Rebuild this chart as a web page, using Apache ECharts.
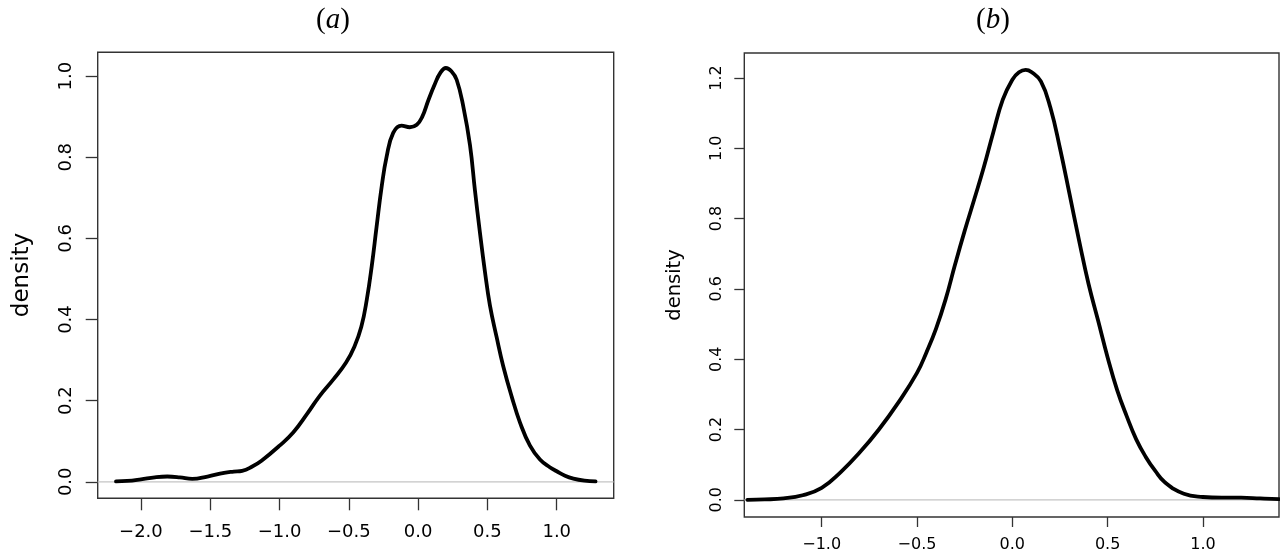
<!DOCTYPE html>
<html>
<head>
<meta charset="utf-8">
<script src="https://cdn.jsdelivr.net/npm/echarts@6/dist/echarts.min.js"></script>
<style>
html,body{margin:0;padding:0;background:#fff;}
#chart{width:1280px;height:557px;}
</style>
</head>
<body>
<div id="chart"></div>
<script>
// ---- Panel (a) data ----
const xA = [-2.18, -2.1, -2.0, -1.9, -1.81, -1.72, -1.63, -1.52, -1.40, -1.33, -1.27, -1.2, -1.13, -1.0, -0.9, -0.8, -0.71, -0.61, -0.52, -0.46, -0.41, -0.37, -0.335, -0.3, -0.263, -0.227, -0.18, -0.12, -0.06, -0.01, 0.03, 0.073, 0.12, 0.16, 0.2, 0.24, 0.278, 0.326, 0.374, 0.41, 0.446, 0.482, 0.518, 0.566, 0.614, 0.675, 0.735, 0.807, 0.879, 0.95, 1.0, 1.06, 1.12, 1.2, 1.28];
const yA = [0.001, 0.002, 0.006, 0.011, 0.013, 0.011, 0.007, 0.013, 0.022, 0.025, 0.027, 0.037, 0.052, 0.089, 0.122, 0.168, 0.212, 0.253, 0.294, 0.333, 0.382, 0.45, 0.531, 0.628, 0.728, 0.802, 0.860, 0.878, 0.874, 0.880, 0.90, 0.94, 0.98, 1.008, 1.020, 1.012, 0.991, 0.925, 0.830, 0.718, 0.614, 0.518, 0.435, 0.357, 0.285, 0.210, 0.146, 0.089, 0.055, 0.036, 0.026, 0.015, 0.008, 0.003, 0.001];
const xTicksA = [-2.0, -1.5, -1.0, -0.5, 0.0, 0.5, 1.0];
const yTicksA = [0.0, 0.2, 0.4, 0.6, 0.8, 1.0];
const xRangeA = [-2.312, 1.411];
const yRangeA = [-0.0407, 1.0587];

// ---- Panel (b) data ----
const xB = [-1.39, -1.3, -1.2, -1.1, -1.0, -0.9, -0.8, -0.7, -0.6, -0.5, -0.45, -0.4, -0.35, -0.3, -0.25, -0.2, -0.15, -0.1, -0.05, 0.0, 0.035, 0.07, 0.1, 0.15, 0.2, 0.25, 0.3, 0.35, 0.4, 0.45, 0.5, 0.55, 0.6, 0.65, 0.7, 0.75, 0.8, 0.9, 1.0, 1.1, 1.2, 1.3, 1.399];
const yB = [0.000, 0.001, 0.004, 0.013, 0.034, 0.079, 0.135, 0.200, 0.275, 0.361, 0.420, 0.487, 0.570, 0.670, 0.765, 0.854, 0.945, 1.045, 1.138, 1.195, 1.216, 1.223, 1.217, 1.190, 1.115, 1.000, 0.870, 0.738, 0.614, 0.510, 0.405, 0.312, 0.238, 0.172, 0.122, 0.082, 0.050, 0.017, 0.008, 0.006, 0.006, 0.004, 0.002];
const xTicksB = [-1.0, -0.5, 0.0, 0.5, 1.0];
const yTicksB = [0.0, 0.2, 0.4, 0.6, 0.8, 1.0, 1.2];
const xRangeB = [-1.406, 1.399];
const yRangeB = [-0.0489, 1.2709];

const titles = ['a', 'b'];
const yLabel = 'density';

const fmt = v => v.toFixed(1).replace('-', '\u2212');
const pairs = (xs, ys) => xs.map((x, i) => [x, ys[i]]);
const AX = '#333';
const FONT = 'DejaVu Sans';

function xAxisCfg(idx, range, ticks, fs, tickLen, margin) {
  return {
    type: 'value', gridIndex: idx, min: range[0], max: range[1],
    axisLine: { show: false, onZero: false },
    splitLine: { show: false },
    axisTick: { show: true, length: tickLen, customValues: ticks, lineStyle: { color: AX, width: 1.3 } },
    axisLabel: { customValues: ticks, formatter: fmt, fontFamily: FONT, fontSize: fs, color: '#000', margin: margin }
  };
}
function yAxisCfg(idx, range, ticks, fs, tickLen, margin) {
  return {
    type: 'value', gridIndex: idx, min: range[0], max: range[1],
    axisLine: { show: false, onZero: false },
    splitLine: { show: false },
    axisTick: { show: true, length: tickLen, customValues: ticks, lineStyle: { color: AX, width: 1.3 } },
    axisLabel: { customValues: ticks, formatter: fmt, fontFamily: FONT, fontSize: fs, color: '#000', margin: margin, rotate: 90 }
  };
}
function zeroSeries(idx, range) {
  return {
    type: 'line', xAxisIndex: idx, yAxisIndex: idx, z: 1, silent: true,
    symbol: 'none', data: [[range[0], 0], [range[1], 0]],
    lineStyle: { color: '#c4c4c4', width: 1.3 }
  };
}
function curveSeries(idx, xs, ys) {
  return {
    type: 'line', xAxisIndex: idx, yAxisIndex: idx, z: 3, silent: true,
    symbol: 'none', smooth: 0.45, data: pairs(xs, ys),
    lineStyle: { color: '#000', width: 3.8, cap: 'round', join: 'round' }
  };
}

const chart = echarts.init(document.getElementById('chart'), null, { renderer: 'canvas' });
const richT = { p: { fontFamily: 'Liberation Serif', fontSize: 29, fill: '#000' }, i: { fontFamily: 'Liberation Serif', fontStyle: 'italic', fontSize: 29, fill: '#000' } };
chart.setOption({
  backgroundColor: '#fff',
  animation: false,
  grid: [
    { left: 97.7, top: 52.3, width: 516, height: 446, show: true, borderColor: AX, borderWidth: 1.4, backgroundColor: 'transparent' },
    { left: 744.3, top: 53, width: 534.7, height: 464, show: true, borderColor: AX, borderWidth: 1.4, backgroundColor: 'transparent' }
  ],
  xAxis: [
    xAxisCfg(0, xRangeA, xTicksA, 18, 12, 25),
    xAxisCfg(1, xRangeB, xTicksB, 16, 10, 20)
  ],
  yAxis: [
    yAxisCfg(0, yRangeA, yTicksA, 18, 12, 22),
    yAxisCfg(1, yRangeB, yTicksB, 16, 10, 19)
  ],
  series: [
    zeroSeries(0, xRangeA), curveSeries(0, xA, yA),
    zeroSeries(1, xRangeB), curveSeries(1, xB, yB)
  ],
  graphic: [
    { type: 'text', x: 333, y: 20, style: { text: '{p|(}{i|' + titles[0] + '}{p|)}', align: 'center', verticalAlign: 'middle', rich: richT } },
    { type: 'text', x: 993, y: 20, style: { text: '{p|(}{i|' + titles[1] + '}{p|)}', align: 'center', verticalAlign: 'middle', rich: richT } },
    { type: 'text', x: 22, y: 275, rotation: Math.PI / 2, style: { text: yLabel, align: 'center', verticalAlign: 'middle', fontFamily: FONT, fontSize: 23, fill: '#000' } },
    { type: 'text', x: 675, y: 285, rotation: Math.PI / 2, style: { text: yLabel, align: 'center', verticalAlign: 'middle', fontFamily: FONT, fontSize: 19.5, fill: '#000' } }
  ]
});
</script>
</body>
</html>
